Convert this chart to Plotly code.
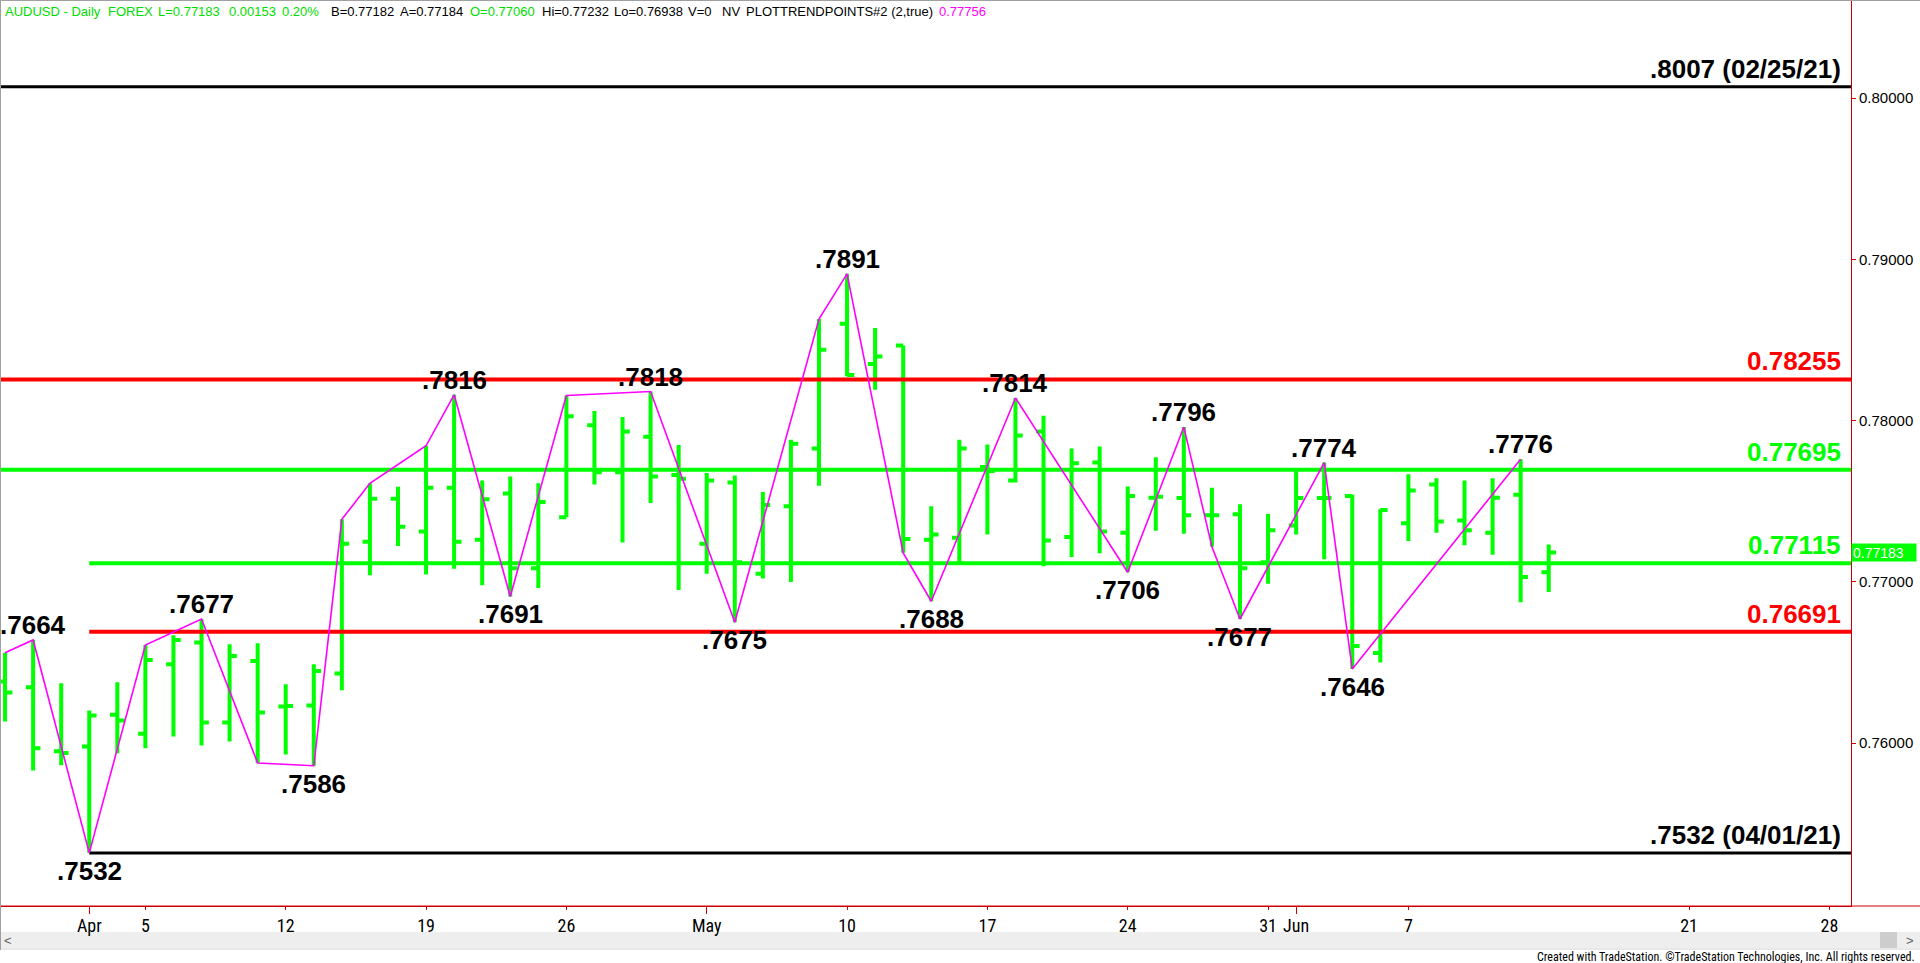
import plotly.graph_objects as go
import pandas as pd

# ---------------- data ----------------
dates = ["2021-03-29", "2021-03-30", "2021-03-31", "2021-04-01", "2021-04-02",
         "2021-04-05", "2021-04-06", "2021-04-07", "2021-04-08", "2021-04-09",
         "2021-04-12", "2021-04-13", "2021-04-14", "2021-04-15", "2021-04-16",
         "2021-04-19", "2021-04-20", "2021-04-21", "2021-04-22", "2021-04-23",
         "2021-04-26", "2021-04-27", "2021-04-28", "2021-04-29", "2021-04-30",
         "2021-05-03", "2021-05-04", "2021-05-05", "2021-05-06", "2021-05-07",
         "2021-05-10", "2021-05-11", "2021-05-12", "2021-05-13", "2021-05-14",
         "2021-05-17", "2021-05-18", "2021-05-19", "2021-05-20", "2021-05-21",
         "2021-05-24", "2021-05-25", "2021-05-26", "2021-05-27", "2021-05-28",
         "2021-05-31", "2021-06-01", "2021-06-02", "2021-06-03", "2021-06-04",
         "2021-06-07", "2021-06-08", "2021-06-09", "2021-06-10", "2021-06-11",
         "2021-06-14"]
opens = [0.76382, 0.76347, 0.75950, 0.75980, 0.76176,
         0.76058, 0.76490, 0.76625, 0.76128, 0.76510,
         0.76227, 0.76233, 0.76432, 0.77249, 0.77515,
         0.77312, 0.77583, 0.77261, 0.77548, 0.77084,
         0.77401, 0.77971, 0.77680, 0.77900, 0.77662,
         0.77236, 0.77616, 0.77050, 0.77469, 0.77827,
         0.78600, 0.78351, 0.78465, 0.77261, 0.77274,
         0.77713, 0.77629, 0.77933, 0.77279, 0.77740,
         0.77304, 0.77522, 0.77520, 0.77413, 0.77420,
         0.77122, 0.77350, 0.77520, 0.77533, 0.76559,
         0.77363, 0.77604, 0.77380, 0.77304, 0.77540,
         0.77060]
highs = [0.76561, 0.76640, 0.76371, 0.76202, 0.76378,
         0.76609, 0.76670, 0.76770, 0.76613, 0.76619,
         0.76365, 0.76489, 0.77388, 0.77611, 0.77590,
         0.77844, 0.78160, 0.77629, 0.77654, 0.77611,
         0.78156, 0.78060, 0.78022, 0.78180, 0.77849,
         0.77675, 0.77659, 0.77558, 0.77882, 0.78630,
         0.78910, 0.78574, 0.78465, 0.77469, 0.77882,
         0.77852, 0.78140, 0.78030, 0.77827, 0.77840,
         0.77591, 0.77773, 0.77960, 0.77583, 0.77482,
         0.77421, 0.77692, 0.77740, 0.77540, 0.77451,
         0.77667, 0.77642, 0.77629, 0.77642, 0.77760,
         0.77232]
lows = [0.76134, 0.75831, 0.75864, 0.75320, 0.75938,
        0.75969, 0.76042, 0.75986, 0.76011, 0.75877,
        0.75930, 0.75860, 0.76328, 0.77041, 0.77223,
        0.77046, 0.77081, 0.76980, 0.76910, 0.76962,
        0.77401, 0.77604, 0.77244, 0.77489, 0.76950,
        0.77051, 0.76750, 0.77021, 0.77000, 0.77596,
        0.78275, 0.78192, 0.77180, 0.76880, 0.77109,
        0.77294, 0.77616, 0.77097, 0.77155, 0.77178,
        0.77060, 0.77317, 0.77299, 0.77218, 0.76770,
        0.76988, 0.77294, 0.77140, 0.76460, 0.76501,
        0.77254, 0.77304, 0.77228, 0.77168, 0.76874,
        0.76938]
closes = [0.76314, 0.75969, 0.75940, 0.76171, 0.76141,
          0.76516, 0.76640, 0.76128, 0.76540, 0.76190,
          0.76230, 0.76448, 0.77236, 0.77515, 0.77342,
          0.77583, 0.77249, 0.77512, 0.77084, 0.77495,
          0.78027, 0.77680, 0.77933, 0.77654, 0.77640,
          0.77629, 0.77122, 0.77477, 0.77857, 0.78440,
          0.78283, 0.78397, 0.77266, 0.77294, 0.77827,
          0.77687, 0.77908, 0.77256, 0.77735, 0.77312,
          0.77533, 0.77528, 0.77413, 0.77413, 0.77084,
          0.77320, 0.77520, 0.77520, 0.76602, 0.77446,
          0.77566, 0.77375, 0.77320, 0.77522, 0.77030,
          0.77183]

# PLOTTRENDPOINTS zig-zag
zz_dates = ["2021-03-29", "2021-03-30", "2021-04-01", "2021-04-05", "2021-04-07",
            "2021-04-09", "2021-04-13", "2021-04-14", "2021-04-15", "2021-04-19",
            "2021-04-20", "2021-04-22", "2021-04-26", "2021-04-29", "2021-05-04",
            "2021-05-07", "2021-05-10", "2021-05-12", "2021-05-13", "2021-05-18",
            "2021-05-24", "2021-05-26", "2021-05-27", "2021-05-28", "2021-06-02",
            "2021-06-03", "2021-06-11"]
zz_values = [0.76561, 0.7664, 0.7532, 0.76609, 0.7677,
             0.75877, 0.7586, 0.77388, 0.77611, 0.77844,
             0.7816, 0.7691, 0.78156, 0.7818, 0.7675,
             0.7863, 0.7891, 0.7718, 0.7688, 0.7814,
             0.7706, 0.7796, 0.77218, 0.7677, 0.7774,
             0.7646, 0.7776]

# labelled swing points
swing_dates = ["2021-03-30", "2021-04-01", "2021-04-07", "2021-04-13", "2021-04-20",
               "2021-04-22", "2021-04-29", "2021-05-04", "2021-05-10", "2021-05-13",
               "2021-05-18", "2021-05-24", "2021-05-26", "2021-05-28", "2021-06-02",
               "2021-06-03", "2021-06-11"]
swing_values = [0.7664, 0.7532, 0.7677, 0.7586, 0.7816,
                0.7691, 0.7818, 0.7675, 0.7891, 0.7688,
                0.7814, 0.7706, 0.7796, 0.7677, 0.7774,
                0.7646, 0.7776]
swing_kinds = ["H", "L", "H", "L", "H",
               "L", "H", "L", "H", "L",
               "H", "L", "H", "L", "H",
               "L", "H"]

# horizontal levels
level_values = [0.8007, 0.78255, 0.77695, 0.77115, 0.76691, 0.7532]
level_labels = [".8007 (02/25/21)", "0.78255", "0.77695", "0.77115", "0.76691", ".7532 (04/01/21)"]
level_starts = [None, None, None, "2021-04-01", "2021-04-01", "2021-04-01"]
level_colors = ["#000000", "#FF0000", "#00FF00", "#00FF00", "#FF0000", "#000000"]

# axis ticks
tick_dates = ["2021-04-01", "2021-04-05", "2021-04-12", "2021-04-19", "2021-04-26",
              "2021-05-03", "2021-05-10", "2021-05-17", "2021-05-24", "2021-05-31",
              "2021-06-01", "2021-06-07", "2021-06-21", "2021-06-28"]
tick_labels = ["Apr", "5", "12", "19", "26", "May", "10", "17", "24", "31", "Jun", "7", "21", "28"]
month_tick_dates = ["2021-04-01", "2021-05-03", "2021-06-01"]
y_ticks = [0.76, 0.77, 0.78, 0.79, 0.80]
last_price = 0.77183

header_parts = [("AUDUSD - Daily", "#00DD00"), ("FOREX", "#00DD00"), ("L=0.77183", "#00DD00"),
                ("0.00153", "#00DD00"), ("0.20%", "#00DD00"), ("B=0.77182", "#000000"),
                ("A=0.77184", "#000000"), ("O=0.77060", "#00DD00"), ("Hi=0.77232", "#000000"),
                ("Lo=0.76938", "#000000"), ("V=0", "#000000"), ("NV", "#000000"),
                ("PLOTTRENDPOINTS#2 (2,true)", "#000000"), ("0.77756", "#FF00FF")]
header_px = [3, 106, 156, 227, 280, 329, 398, 468, 540, 612, 686, 720, 744, 937]

# ---------------- trading-day scale ----------------
cal = pd.bdate_range("2021-03-29", "2021-07-02")
pos = {d.strftime("%Y-%m-%d"): i for i, d in enumerate(cal)}


def X(ds):
    return [pos[d] for d in ds]


W, H = 1920, 963
PW, PH = 1851, 906          # plot area in pixels
XR = [-0.18, 65.77]
YR = [0.749907, 0.806076]


def px_x(p):
    return p / PW


def px_y(p):
    return (PH - p) / PH


NARROW = "Liberation Sans Narrow, Arial Narrow, Roboto Condensed, DejaVu Sans Condensed, sans-serif"
ARIAL = "Liberation Sans, Arial, sans-serif"

fig = go.Figure()

# level lines
for v, c, s in zip(level_values, level_colors, level_starts):
    x0 = XR[0] if s is None else pos[s]
    fig.add_trace(go.Scatter(x=[x0, XR[1]], y=[v, v], mode="lines",
                             line=dict(color=c, width=3 if c == "#000000" else 4),
                             hoverinfo="skip", showlegend=False))

# price bars
fig.add_trace(go.Ohlc(x=X(dates), open=opens, high=highs, low=lows, close=closes,
                      increasing=dict(line=dict(color="#00FF00", width=4)),
                      decreasing=dict(line=dict(color="#00FF00", width=4)),
                      tickwidth=0.26, showlegend=False, hoverinfo="skip"))

# zig-zag
fig.add_trace(go.Scatter(x=X(zz_dates), y=zz_values, mode="lines",
                         line=dict(color="#FF00FF", width=1.6),
                         hoverinfo="skip", showlegend=False))

# dummy trace on overlay axis for long month ticks
fig.add_trace(go.Scatter(x=[XR[0]], y=[YR[0]], mode="lines", xaxis="x2",
                         hoverinfo="skip", showlegend=False))

annotations = []
for d, v, k in zip(swing_dates, swing_values, swing_kinds):
    annotations.append(dict(
        x=pos[d], y=v, xref="x", yref="y", showarrow=False,
        text="<b>.%04d</b>" % round(v * 10000),
        font=dict(family=ARIAL, size=26, color="#000000"),
        xanchor="center", yanchor="bottom" if k == "H" else "top",
        yshift=-2 if k == "H" else -1))

for v, c, t in zip(level_values, level_labels, level_colors):
    annotations.append(dict(
        x=65.5, y=v, xref="x", yref="y", showarrow=False,
        text="<b>%s</b>" % c,
        font=dict(family=ARIAL, size=26, color=t),
        xanchor="right", yanchor="bottom", yshift=1))

for (txt, col), p in zip(header_parts, header_px):
    annotations.append(dict(
        x=px_x(p), y=px_y(11.5), xref="paper", yref="paper", showarrow=False,
        text=txt, font=dict(family=ARIAL, size=13, color=col),
        xanchor="left", yanchor="middle"))

annotations.append(dict(
    x=1, y=last_price, xref="paper", yref="y", showarrow=False,
    text="%.5f" % last_price, xanchor="left", yanchor="middle", xshift=0,
    width=62, height=15, align="left", bgcolor="#00FF00", borderpad=1,
    font=dict(family=ARIAL, size=14, color="#FFFFFF")))

annotations.append(dict(
    x=px_x(1917), y=px_y(957), xref="paper", yref="paper", showarrow=False,
    text="Created with TradeStation. \u00a9TradeStation Technologies, Inc. All rights reserved.",
    xanchor="right", yanchor="middle",
    font=dict(family=NARROW, size=12, color="#000000")))
annotations.append(dict(x=px_x(8), y=px_y(940), xref="paper", yref="paper", showarrow=False,
                        text="<", font=dict(family=ARIAL, size=13, color="#606060"),
                        xanchor="center", yanchor="middle"))
annotations.append(dict(x=px_x(1910), y=px_y(940), xref="paper", yref="paper", showarrow=False,
                        text=">", font=dict(family=ARIAL, size=13, color="#606060"),
                        xanchor="center", yanchor="middle"))

shapes = [
    # scrollbar
    dict(type="rect", xref="paper", yref="paper", x0=0, x1=px_x(W), y0=px_y(948), y1=px_y(932),
         fillcolor="#EEEEEE", line=dict(width=0), layer="below"),
    dict(type="rect", xref="paper", yref="paper", x0=px_x(1880), x1=px_x(1897),
         y0=px_y(948), y1=px_y(932), fillcolor="#CDCDCD", line=dict(width=0)),
    dict(type="line", xref="paper", yref="paper", x0=0, x1=px_x(W), y0=px_y(949), y1=px_y(949),
         line=dict(color="#D0D0D0", width=1)),
    # x-axis line extension
    dict(type="line", xref="paper", yref="paper", x0=0, x1=px_x(W), y0=0, y1=0,
         line=dict(color="#CC0000", width=1)),
    # window borders
    dict(type="line", xref="paper", yref="paper", x0=0, x1=px_x(W), y0=px_y(0.5), y1=px_y(0.5),
         line=dict(color="#A0A0A0", width=1)),
    dict(type="line", xref="paper", yref="paper", x0=px_x(0.5), x1=px_x(0.5), y0=px_y(950), y1=1,
         line=dict(color="#A0A0A0", width=1)),
]

fig.update_layout(
    width=W, height=H,
    margin=dict(l=0, r=W - PW, t=0, b=H - PH, pad=0),
    paper_bgcolor="#FFFFFF", plot_bgcolor="#FFFFFF",
    showlegend=False,
    xaxis=dict(range=XR, tickvals=X(tick_dates), ticktext=tick_labels,
               ticks="outside", ticklen=3, tickwidth=1, tickcolor="#CC0000",
               showline=True, linecolor="#CC0000", linewidth=1,
               showgrid=False, zeroline=False, rangeslider=dict(visible=False),
               tickfont=dict(family=NARROW, size=18, color="#000000")),
    xaxis2=dict(range=XR, overlaying="x", anchor="y", side="bottom",
                tickvals=X(month_tick_dates), ticks="outside", ticklen=7, tickwidth=1,
                tickcolor="#CC0000", showticklabels=False, showline=False,
                showgrid=False, zeroline=False),
    yaxis=dict(range=YR, side="right", tickvals=y_ticks, tickformat=".5f",
               ticks="outside", ticklen=4, tickwidth=1, tickcolor="#CC0000",
               showline=True, linecolor="#CC0000", linewidth=1,
               showgrid=False, zeroline=False,
               tickfont=dict(family=ARIAL, size=15, color="#000000")),
    annotations=annotations,
    shapes=shapes,
)

fig.write_html("out.html", config={"displayModeBar": False},
               post_script="document.body.style.margin='0';document.body.style.overflow='hidden';")
